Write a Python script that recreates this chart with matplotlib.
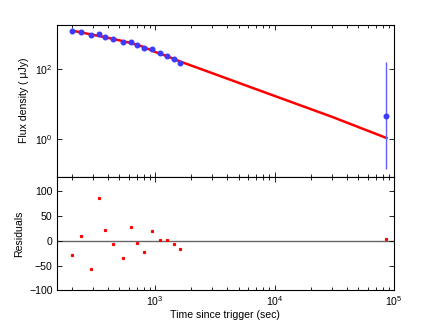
import matplotlib
matplotlib.use("Agg")
import matplotlib.pyplot as plt
import numpy as np
from matplotlib.ticker import FixedLocator, LogLocator, NullFormatter, NullLocator

plt.rcParams['font.family'] = ['Liberation Sans', 'DejaVu Sans']
plt.rcParams['mathtext.fontset'] = 'custom'
plt.rcParams['mathtext.rm'] = 'Liberation Sans'
plt.rcParams['mathtext.it'] = 'Liberation Sans:italic'
plt.rcParams['font.size'] = 7.6

# Data
t_obs = [203, 240, 288, 336, 384, 448, 536, 625, 711, 804, 933, 1095, 1261, 1435, 1603]
f_obs = [1218, 1119, 918, 980, 837, 706, 591, 603, 485, 398, 365, 281, 240, 189, 151]
res_obs = [-29.6, 10.1, -57, 87.3, 22.2, -6, -34.9, 28.2, -4.6, -21.6, 19.6, 2.6, 2.0, -6, -16.7]

t_late = [86300]
f_late = [4.6]
f_late_lo = [4.46]
f_late_hi = [153]
res_late = [3.4]

fit_t = [203, 300, 400, 500, 600, 700, 800, 1000, 1300, 1600, 3000, 10000, 30000, 86300]
fit_f = [1248, 958, 785, 665, 575, 500, 430, 310, 225, 168, 77.2, 17.3, 4.44, 1.1]

fig = plt.figure(figsize=(4.36, 3.27), dpi=100)
ax1 = fig.add_axes([0.130, 0.4602, 0.774, 0.4643])
ax2 = fig.add_axes([0.130, 0.1122, 0.774, 0.348])

ax1.plot(fit_t, fit_f, color='red', lw=1.8, zorder=2)
ax1.plot(t_obs, f_obs, 'o', color='#3b3bff', ms=3.3, mec='#3b3bff', zorder=3)
ax1.errorbar(t_late, f_late, yerr=[f_late_lo, f_late_hi], fmt='o', color='#3b3bff',
             ecolor='#6060ff', elinewidth=1.0, ms=3.3, capsize=0, zorder=3)
ax1.set_xscale('log')
ax1.set_yscale('log')
ax1.set_xlim(150, 1e5)
ax1.set_ylim(0.088, 1850)
ax1.yaxis.set_major_locator(FixedLocator([1, 100]))
ax1.yaxis.set_minor_locator(NullLocator())
ax1.xaxis.set_major_formatter(NullFormatter())
ax1.set_ylabel('Flux density ( μJy)')

ax2.axhline(0, color='#666666', lw=1.0, zorder=1)
ax2.plot(t_obs, res_obs, 's', color='red', ms=1.3, mec='red', zorder=3)
ax2.plot(t_late, res_late, 's', color='red', ms=1.3, mec='red', zorder=3)
ax2.set_xscale('log')
ax2.set_xlim(150, 1e5)
ax2.set_ylim(-100, 130)
ax2.set_yticks([-100, -50, 0, 50, 100])
ax2.set_ylabel('Residuals')
ax2.set_xlabel('Time since trigger (sec)', labelpad=1)

for ax in (ax1, ax2):
    ax.tick_params(which='both', direction='in', top=True, right=True, pad=3)
    ax.tick_params(which='major', length=3.5, width=0.6)
    ax.tick_params(which='minor', length=2, width=0.6)
    for s in ax.spines.values():
        s.set_linewidth(0.8)
    ax.xaxis.set_minor_locator(LogLocator(base=10, subs=np.arange(2, 10)))
    ax.xaxis.set_minor_formatter(NullFormatter())

ax1.yaxis.set_label_coords(-0.083, 0.5)
ax2.yaxis.set_label_coords(-0.095, 0.5)

fig.savefig('out.png', dpi=100)
